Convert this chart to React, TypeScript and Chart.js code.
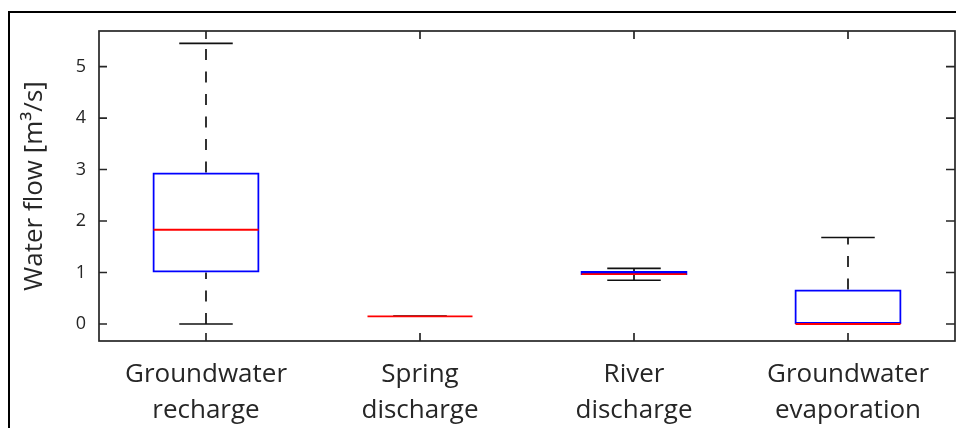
import React, { useEffect, useRef } from "react";
import { Chart, registerables } from "chart.js";

Chart.register(...registerables);

// Box-plot summary for each water-balance term (m³/s)
const categories: string[][] = [
  ["Groundwater", "recharge"],
  ["Spring", "discharge"],
  ["River", "discharge"],
  ["Groundwater", "evaporation"],
];
const lowerWhisker = [0, 0.15, 0.85, 0];
const q1 = [1.0, 0.15, 0.95, 0];
const median = [1.83, 0.15, 0.97, 0];
const q3 = [2.94, 0.15, 1.03, 0.67];
const upperWhisker = [5.45, 0.15, 1.08, 1.68];

const yTickValues = [0, 1, 2, 3, 4, 5];
const yMin = -0.33;
const yMax = 5.69;
const yTitle = "Water flow [m³/s]";

const FONT = '"Open Sans", "Noto Sans", sans-serif';
const AXIS_COLOR = "#262626";

const boxPlotPlugin = {
  id: "boxPlotParts",
  beforeDatasetsDraw(chart: any) {
    const { ctx } = chart;
    const x = chart.scales.x;
    const y = chart.scales.y;
    ctx.save();
    ctx.strokeStyle = "#000";
    ctx.lineWidth = 1.6;
    ctx.setLineDash([11, 11.5]);
    categories.forEach((_, i) => {
      const px = x.getPixelForValue(i);
      if (upperWhisker[i] > q3[i]) {
        ctx.beginPath();
        ctx.moveTo(px, y.getPixelForValue(q3[i]));
        ctx.lineTo(px, y.getPixelForValue(upperWhisker[i]));
        ctx.stroke();
      }
      if (lowerWhisker[i] < q1[i]) {
        ctx.beginPath();
        ctx.moveTo(px, y.getPixelForValue(lowerWhisker[i]));
        ctx.lineTo(px, y.getPixelForValue(q1[i]));
        ctx.stroke();
      }
    });
    ctx.restore();
  },
  afterDatasetsDraw(chart: any) {
    const { ctx, chartArea } = chart;
    const x = chart.scales.x;
    const y = chart.scales.y;
    const catWidth = (chartArea.right - chartArea.left) / categories.length;
    const capHalf = catWidth / 8;
    const boxHalf = catWidth / 4;
    ctx.save();
    ctx.setLineDash([]);
    // whisker caps
    ctx.strokeStyle = "#111";
    ctx.lineWidth = 1.6;
    categories.forEach((_, i) => {
      const px = x.getPixelForValue(i);
      [upperWhisker[i], lowerWhisker[i]].forEach((v) => {
        const py = y.getPixelForValue(v);
        ctx.beginPath();
        ctx.moveTo(px - capHalf, py);
        ctx.lineTo(px + capHalf, py);
        ctx.stroke();
      });
    });
    // medians
    ctx.strokeStyle = "#ff0000";
    ctx.lineWidth = 1.8;
    categories.forEach((_, i) => {
      const px = x.getPixelForValue(i);
      const py = y.getPixelForValue(median[i]);
      ctx.beginPath();
      ctx.moveTo(px - boxHalf + 1, py);
      ctx.lineTo(px + boxHalf - 1, py);
      ctx.stroke();
    });
    ctx.restore();
  },
  afterDraw(chart: any) {
    const { ctx, chartArea } = chart;
    const { left, right, top, bottom } = chartArea;
    const x = chart.scales.x;
    const y = chart.scales.y;
    ctx.save();
    ctx.strokeStyle = AXIS_COLOR;
    ctx.lineWidth = 1.7;
    ctx.setLineDash([]);
    ctx.strokeRect(left, top, right - left, bottom - top);
    // inward tick marks on all four sides
    y.ticks.forEach((t: any) => {
      const py = y.getPixelForValue(t.value);
      ctx.beginPath();
      ctx.moveTo(left, py);
      ctx.lineTo(left + 8, py);
      ctx.moveTo(right, py);
      ctx.lineTo(right - 9, py);
      ctx.stroke();
    });
    categories.forEach((_, i) => {
      const px = x.getPixelForValue(i);
      ctx.beginPath();
      ctx.moveTo(px, top);
      ctx.lineTo(px, top + 8);
      ctx.moveTo(px, bottom);
      ctx.lineTo(px, bottom - 8);
      ctx.stroke();
    });
    ctx.restore();
  },
};

function BoxChart() {
  const canvasRef = useRef<HTMLCanvasElement | null>(null);

  useEffect(() => {
    const canvas = canvasRef.current;
    if (!canvas) return;
    const chart = new Chart(canvas, {
      type: "bar",
      data: {
        labels: categories,
        datasets: [
          {
            label: "IQR",
            data: q1.map((lo, i) => [lo, q3[i]]),
            backgroundColor: "rgba(0,0,0,0)",
            borderColor: "#0000ff",
            borderWidth: 2,
            borderSkipped: false,
            barPercentage: 0.5,
            categoryPercentage: 1,
          } as any,
        ],
      },
      options: {
        responsive: false,
        animation: false,
        events: [],
        layout: { padding: { top: 31, right: 1, left: 0, bottom: 0 } },
        plugins: {
          legend: { display: false },
          tooltip: { enabled: false },
          title: { display: false },
        },
        scales: {
          x: {
            type: "category",
            offset: true,
            grid: { display: false, drawTicks: false },
            border: { display: false },
            ticks: {
              color: AXIS_COLOR,
              padding: 15,
              maxRotation: 0,
              autoSkip: false,
              font: { family: FONT, size: 26, lineHeight: 1.4 },
            },
            afterFit(scale: any) {
              scale.height = 87;
            },
          },
          y: {
            type: "linear",
            min: yMin,
            max: yMax,
            grid: { display: false, drawTicks: false },
            border: { display: false },
            ticks: {
              color: AXIS_COLOR,
              padding: 13,
              includeBounds: false,
              font: { family: FONT, size: 18 },
            },
            afterBuildTicks(scale: any) {
              scale.ticks = yTickValues.map((v) => ({ value: v }));
            },
            title: {
              display: true,
              text: yTitle,
              color: AXIS_COLOR,
              padding: { top: 19, bottom: 0 },
              font: { family: FONT, size: 26, lineHeight: 1.2 },
            },
            afterFit(scale: any) {
              scale.width = 99;
            },
          },
        },
      },
      plugins: [boxPlotPlugin],
    });
    return () => chart.destroy();
  }, []);

  return (
    <div
      style={{
        position: "fixed",
        left: 0,
        top: 0,
        width: 956,
        height: 428,
        overflow: "hidden",
        background: "#fff",
      }}
    >
      <div
        style={{
          position: "absolute",
          left: 8,
          top: 11,
          width: 1000,
          height: 600,
          borderLeft: "2px solid #000",
          borderTop: "2px solid #000",
          pointerEvents: "none",
        }}
      />
      <canvas
        ref={canvasRef}
        width={956}
        height={428}
        style={{ position: "absolute", left: 0, top: 0, display: "block" }}
      />
    </div>
  );
}

export default function App() {
  return <BoxChart />;
}
